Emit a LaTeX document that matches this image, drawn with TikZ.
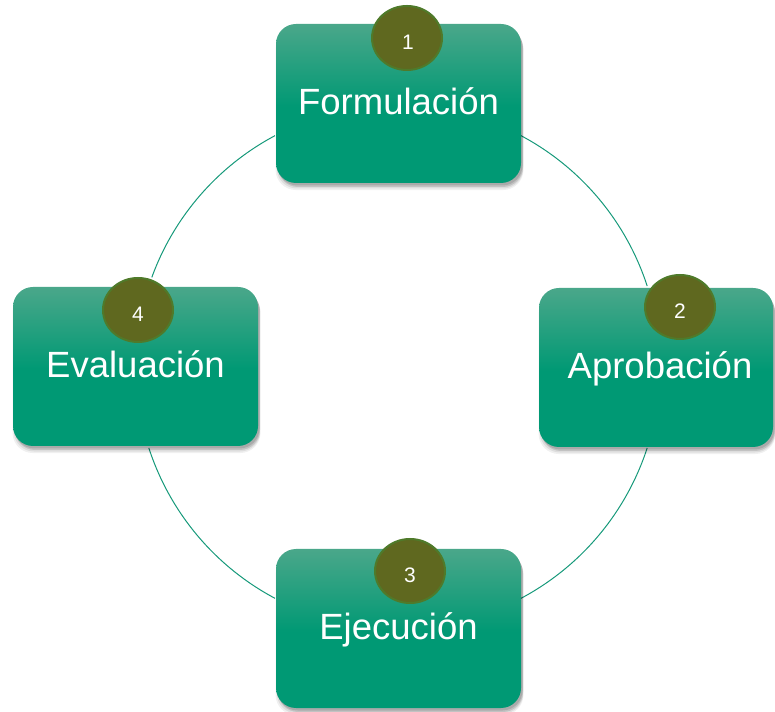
\documentclass[tikz,border=0pt]{standalone}
\usepackage{fontspec}
\setmainfont{Liberation Sans}
\usetikzlibrary{shapes.geometric,shadows}
\definecolor{boxtop}{HTML}{4AA78A}
\definecolor{boxbot}{HTML}{009974}
\definecolor{olivefill}{HTML}{5F681F}
\definecolor{oliveline}{HTML}{4F7A2A}
\definecolor{arcline}{HTML}{16997A}
\pgfdeclareverticalshading{boxshade}{100bp}{color(0bp)=(boxbot); color(25bp)=(boxbot); color(49bp)=(boxbot); color(75bp)=(boxtop); color(100bp)=(boxtop)}
\tikzset{
  stagebox/.style={rectangle, rounded corners=20pt, minimum height=159pt, inner sep=0pt,
    shading=boxshade, draw=none,
    general shadow={shadow xshift=1pt, shadow yshift=-6pt, shadow scale=1.012, fill=black, opacity=0.06},
    general shadow={shadow xshift=1.5pt, shadow yshift=-5pt, shadow scale=1.006, fill=black, opacity=0.08},
    general shadow={shadow xshift=2pt, shadow yshift=-4pt, fill=black, opacity=0.12},
    general shadow={shadow xshift=1.5pt, shadow yshift=-2.5pt, fill=black, opacity=0.12}},
  stagelabel/.style={anchor=base, text=white, font=\fontsize{36.5}{40}\selectfont, inner sep=0pt},
  numdot/.style={ellipse, minimum width=70pt, minimum height=64pt, inner sep=0pt,
    fill=olivefill, draw=oliveline, line width=2pt},
  numlabel/.style={text=white, font=\fontsize{21}{24}\selectfont},
  cyclearc/.style={draw=arcline, line width=1pt}
}
\begin{document}
\begin{tikzpicture}[x=1pt,y=1pt]
\useasboundingbox (0,0) rectangle (775,711);
\coordinate (c) at (398,344);
% connecting arcs
\draw[cyclearc] (c) ++(62:262) arc[start angle=62, end angle=18, radius=262];
\draw[cyclearc] (c) ++(-18:262) arc[start angle=-18, end angle=-62, radius=262];
\draw[cyclearc] (c) ++(-118:262) arc[start angle=-118, end angle=-162, radius=262];
\draw[cyclearc] (c) ++(160:262) arc[start angle=160, end angle=118, radius=262];
% boxes
\node[stagebox, minimum width=245pt] (f) at (398.5,607.5) {};
\node[stagebox, minimum width=234pt] (a) at (656,343.5) {};
\node[stagebox, minimum width=245pt] (e) at (398.5,82.5) {};
\node[stagebox, minimum width=245pt] (v) at (135.5,344.5) {};
% labels
\node[stagelabel] (fl) at ([yshift=-11.5pt]f.center) {Formulación};
\node[stagelabel] (al) at ([yshift=-11.5pt,xshift=4pt]a.center) {Aprobación};
\node[stagelabel] (el) at ([yshift=-11.5pt]e.center) {Ejecución};
\node[stagelabel] (vl) at ([yshift=-11.5pt]v.center) {Evaluación};
% number badges
\node[numdot] (n1) at (407,673) {};
\node[numdot] (n2) at (680,404) {};
\node[numdot] (n3) at (410,140) {};
\node[numdot] (n4) at (138,401) {};
\node[numlabel] at ([yshift=-4pt,xshift=1pt]n1.center) {1};
\node[numlabel] at ([yshift=-4pt]n2.center) {2};
\node[numlabel] at ([yshift=-4pt]n3.center) {3};
\node[numlabel] at ([yshift=-4pt]n4.center) {4};
\end{tikzpicture}
\end{document}
